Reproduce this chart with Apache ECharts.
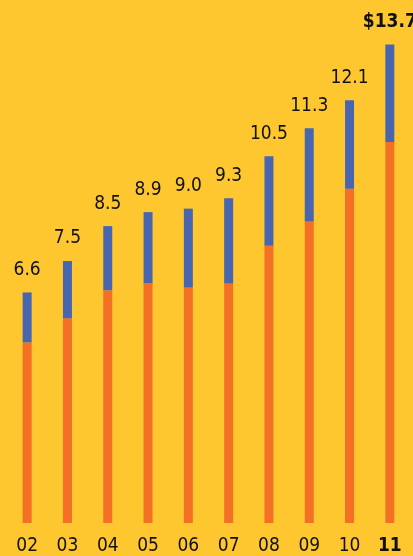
<!DOCTYPE html>
<html>
<head>
<meta charset="utf-8">
<style>
  html, body { margin: 0; padding: 0; background: #FFC72F; }
  #chart { width: 413px; height: 556px; }
</style>
<script src="https://cdn.jsdelivr.net/npm/echarts@6/dist/echarts.min.js"></script>
</head>
<body>
<div id="chart"></div>
<script>
// Fiscal years shown on the x axis
const years = ['02', '03', '04', '05', '06', '07', '08', '09', '10', '11'];
// Total per year (labelled on top of each bar)
const totals = [6.6, 7.5, 8.5, 8.9, 9.0, 9.3, 10.5, 11.3, 12.1, 13.7];
// Lower (orange) segment of each bar
const lower = [5.17, 5.86, 6.66, 6.86, 6.74, 6.86, 7.94, 8.63, 9.57, 10.91];
// Upper (blue) segment = total minus lower segment
const upper = totals.map((t, i) => +(t - lower[i]).toFixed(2));

const FONT = "'DejaVu Sans Condensed', 'Liberation Sans Narrow', 'Arial Narrow', sans-serif";
const FS = 19;

const chart = echarts.init(document.getElementById('chart'));
chart.setOption({
  backgroundColor: '#FFC72F',
  animation: false,
  grid: { left: 7, right: 3, top: 34, bottom: 32 },
  xAxis: {
    type: 'category',
    data: years,
    axisLine: { show: false },
    axisTick: { show: false },
    axisLabel: {
      interval: 0,
      margin: 14,
      fontSize: FS,
      fontFamily: FONT,
      color: '#111',
      formatter: (v, i) => i === years.length - 1 ? '{b|' + v + '}' : v,
      rich: { b: { fontSize: FS, fontWeight: 'bold', fontFamily: FONT, color: '#111' } }
    }
  },
  yAxis: {
    type: 'value', min: 0, max: 14,
    show: false, splitLine: { show: false }
  },
  series: [
    {
      type: 'bar', stack: 'total', barWidth: 9,
      data: lower,
      itemStyle: { color: '#F47025' }
    },
    {
      type: 'bar', stack: 'total', barWidth: 9,
      data: upper,
      itemStyle: { color: '#4866B0' },
      label: {
        show: true, position: 'top', distance: 13,
        fontSize: FS, fontFamily: FONT, color: '#111',
        formatter: p => p.dataIndex === totals.length - 1
          ? '{b|$' + totals[p.dataIndex].toFixed(1) + '}'
          : totals[p.dataIndex].toFixed(1),
        rich: { b: { fontSize: FS, fontWeight: 'bold', fontFamily: FONT, color: '#111' } }
      }
    }
  ]
});
</script>
</body>
</html>
